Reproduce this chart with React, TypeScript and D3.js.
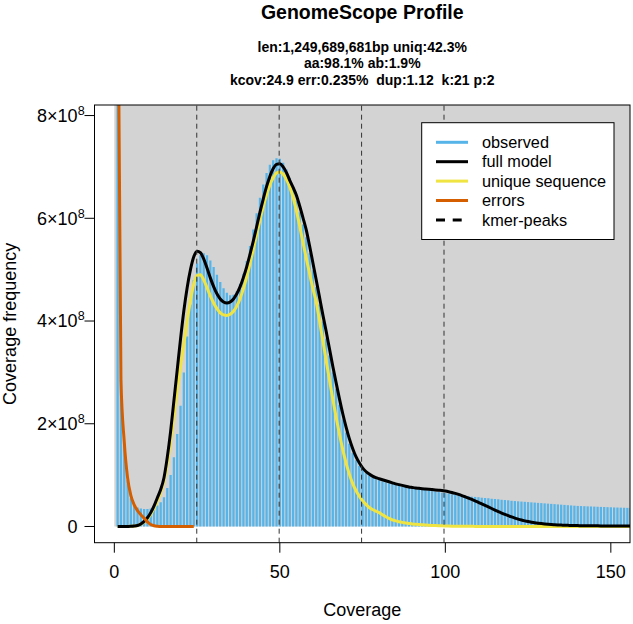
import React from 'react';
import * as d3 from 'd3';

// ---- data (values in millions of k-mers), coverage = index + 1 ----
const observedM = [
  3000, 285, 160, 90, 55, 42, 37, 35, 34, 34,
  35, 37, 41, 47, 57, 75, 100, 135, 180, 235,
  300, 370, 432, 480, 512, 528, 532, 528, 518, 505,
  490, 476, 464, 455, 450, 451, 458, 472, 492, 517,
  546, 578, 610, 640, 666, 688, 704, 713, 717, 716,
  708, 695, 678, 657, 634, 612, 588, 563, 532, 499,
  466, 432, 399, 366, 333, 300, 268, 237, 208, 183,
  161, 143, 129, 118, 110, 104, 99, 96, 93, 90,
  88, 86, 84, 83, 81, 80, 78, 77, 76, 75,
  74, 73, 72, 71, 70, 69, 68, 67, 66, 65,
  64, 63, 62, 61, 60, 59.5, 59, 58, 57.5, 57,
  56, 55.5, 55, 54, 53.5, 53, 52, 51.5, 51, 50,
  49.5, 49, 48.5, 48, 47.5, 47, 46.5, 46, 45.5, 45,
  44.5, 44, 43.5, 43, 42.5, 42, 41.5, 41, 40.5, 40,
  39.8, 39.5, 39.2, 39, 38.7, 38.4, 38.1, 37.9, 37.6, 37.4,
  37.1, 36.9, 36.7, 36.5, 36.3, 36.1, 35.9,
];

const fullModelM = [
  0, 0, 0, 0.1, 0.3, 0.8, 2, 5, 10, 17,
  27, 40, 56, 72, 95, 135, 185, 245, 305, 365,
  420, 465, 500, 525, 536, 533, 521, 503, 484, 467,
  453, 443, 437, 435, 437, 443, 453, 467, 485, 506,
  530, 556, 584, 612, 638, 662, 682, 697, 705, 706,
  700, 689, 674, 660, 645, 624, 601, 577, 546, 513,
  480, 446, 412, 380, 346, 312, 280, 249, 220, 194,
  171, 152, 136, 124, 114, 107, 102, 98, 95, 93,
  91, 89, 87, 85, 83, 81.5, 80, 78.5, 77, 76,
  75, 74.3, 73.6, 73, 72.4, 71.8, 71.2, 70.6, 70, 69,
  67.7, 66.2, 64.4, 62.4, 60.2, 57.8, 55.3, 52.6, 49.8, 47,
  44, 41, 38, 35, 32, 29, 26.2, 23.5, 21, 18.6,
  16.4, 14.4, 12.6, 11, 9.6, 8.4, 7.3, 6.4, 5.6, 4.9,
  4.3, 3.8, 3.4, 3.0, 2.7, 2.4, 2.2, 2.0, 1.8, 1.7,
  1.6, 1.5, 1.4, 1.3, 1.25, 1.2, 1.15, 1.1, 1.05, 1.0,
  1.0, 0.95, 0.9, 0.9, 0.85, 0.85, 0.8,
];

const uniqueSeqM = [
  0, 0, 0, 0.1, 0.3, 0.7, 1.8, 4.5, 9, 15,
  24, 36, 50, 66, 88, 122, 165, 215, 265, 312,
  355, 400, 440, 472, 489, 490, 480, 465, 449, 435,
  424, 416, 412, 411, 413, 419, 429, 444, 463, 486,
  512, 540, 569, 597, 623, 646, 665, 679, 688, 690,
  686, 676, 661, 641, 615, 585, 553, 522, 492, 463,
  437, 400, 362, 323, 285, 248, 213, 180, 150, 124,
  102, 84, 70, 59, 50, 43, 37, 33, 30, 27,
  23, 19, 16, 13, 11, 9.3, 8, 7, 6, 5,
  4.3, 3.7, 3.2, 2.7, 2.3, 2, 1.7, 1.4, 1.2, 1,
  0.85, 0.7, 0.6, 0.5, 0.42, 0.35, 0.3, 0.25, 0.2, 0.17,
  0.14, 0.12, 0.1, 0.08, 0.07, 0.06, 0.05, 0.04, 0.03, 0.02,
  0, 0, 0, 0, 0, 0, 0, 0, 0, 0,
  0, 0, 0, 0, 0, 0, 0, 0, 0, 0,
  0, 0, 0, 0, 0, 0, 0, 0, 0, 0,
  0, 0, 0, 0, 0, 0, 0,
];

const errorsM = [
  1150, 285, 165, 95, 60, 42, 31, 23, 16, 9,
  4, 1.5, 0.5, 0, 0, 0, 0, 0, 0, 0,
  0, 0, 0, 0,
];

const kmerPeaks = [24.9, 49.8, 74.7, 99.6];
const xTicks = [0, 50, 100, 150];
const yTicks = [0, 2e8, 4e8, 6e8, 8e8];
const yTickMantissa = ['0', '2', '4', '6', '8'];

const titleText = 'GenomeScope Profile';
const subtitleLines = [
  'len:1,249,689,681bp uniq:42.3%',
  'aa:98.1% ab:1.9%',
  'kcov:24.9 err:0.235%  dup:1.12  k:21 p:2',
];
const legendLabels = ['observed', 'full model', 'unique sequence', 'errors', 'kmer-peaks'];
const legendColors = ['#56B4E9', '#000000', '#F0E442', '#D55E00', '#000000'];

const FONT = '"Liberation Sans", Arial, Helvetica, sans-serif';

export default function App() {
  const W = 633;
  const H = 624;
  const box = { l: 94.5, r: 630, t: 105, b: 542.7 };
  const xlim = [0, 149.8];
  const ylim = [0, 789e6];
  const pad = 0.04;
  const xr = xlim[1] - xlim[0];
  const yr = ylim[1] - ylim[0];
  const x = d3.scaleLinear().domain([xlim[0] - pad * xr, xlim[1] + pad * xr]).range([box.l, box.r]);
  const y = d3.scaleLinear().domain([ylim[0] - pad * yr, ylim[1] + pad * yr]).range([box.b, box.t]);

  const toPts = (arr: number[]) => arr.map((v, i) => [i + 1, v * 1e6] as [number, number]);
  const line = d3
    .line<[number, number]>()
    .x((d) => x(d[0]))
    .y((d) => y(d[1]))
    .curve(d3.curveMonotoneX);

  const obs = toPts(observedM);
  const cx = (box.l + box.r) / 2;
  const cy = (box.t + box.b) / 2;

  const leg = { l: 421.7, t: 122.7, r: 614, b: 239.5 };
  const legY0 = 142.3;
  const legDy = 19.4;

  return (
    <svg
      width={W}
      height={H}
      style={{ position: 'fixed', left: 0, top: 0, background: '#fff' }}
      fontFamily={FONT}
    >
      <defs>
        <clipPath id="plotclip">
          <rect x={box.l} y={box.t} width={box.r - box.l} height={box.b - box.t} />
        </clipPath>
      </defs>
      <rect x={0} y={0} width={W} height={H} fill="#fff" />

      <g clipPath="url(#plotclip)">
        <rect x={x(0)} y={box.t - 10} width={box.r - x(0) + 10} height={y(0) - box.t + 10} fill="#D3D3D3" />
        {obs.map((d, i) => (
          <line
            key={i}
            x1={x(d[0])}
            x2={x(d[0])}
            y1={y(0)}
            y2={y(d[1])}
            stroke="#56B4E9"
            strokeWidth={2.3}
          />
        ))}
        <path d={line(toPts(uniqueSeqM)) || ''} fill="none" stroke="#F0E442" strokeWidth={3} />
        <path d={line(toPts(fullModelM)) || ''} fill="none" stroke="#000" strokeWidth={3} />
        <path d={line(toPts(errorsM)) || ''} fill="none" stroke="#D55E00" strokeWidth={3} />
        {kmerPeaks.map((k, i) => (
          <line
            key={i}
            x1={x(k)}
            x2={x(k)}
            y1={box.b}
            y2={box.t}
            stroke="#333"
            strokeWidth={1}
            strokeDasharray="5,4"
          />
        ))}
      </g>

      {/* legend */}
      <rect x={leg.l} y={leg.t} width={leg.r - leg.l} height={leg.b - leg.t} fill="#fff" stroke="#000" strokeWidth={1} />
      {legendLabels.map((lab, i) => (
        <g key={lab}>
          <line
            x1={436}
            x2={468}
            y1={legY0 + i * legDy}
            y2={legY0 + i * legDy}
            stroke={legendColors[i]}
            strokeWidth={3}
            strokeDasharray={i === 4 ? '9,7.7' : undefined}
          />
          <text x={482} y={legY0 + i * legDy} dy="0.35em" fontSize={16.3} fill="#000">
            {lab}
          </text>
        </g>
      ))}

      {/* box */}
      <rect x={box.l} y={box.t} width={box.r - box.l} height={box.b - box.t} fill="none" stroke="#000" strokeWidth={1} />

      {/* x axis */}
      {xTicks.map((t) => (
        <g key={t}>
          <line x1={x(t)} x2={x(t)} y1={box.b} y2={box.b + 10} stroke="#000" />
          <text x={x(t)} y={577.5} textAnchor="middle" fontSize={18}>
            {t}
          </text>
        </g>
      ))}
      <text x={cx} y={616} textAnchor="middle" fontSize={18}>
        Coverage
      </text>

      {/* y axis */}
      {yTicks.map((t, i) => (
        <g key={t}>
          <line x1={box.l - 10} x2={box.l} y1={y(t)} y2={y(t)} stroke="#000" />
          {t === 0 ? (
            <text x={77.5} y={y(t)} dy="0.35em" textAnchor="end" fontSize={18}>
              0
            </text>
          ) : (
            <>
              <text x={77.5} y={y(t)} dy="0.35em" textAnchor="end" fontSize={18}>
                {yTickMantissa[i] + '×10'}
              </text>
              <text x={77.8} y={y(t) - 5} dy="0.35em" textAnchor="start" fontSize={12.5}>
                8
              </text>
            </>
          )}
        </g>
      ))}
      <text transform={`translate(16,${cy}) rotate(-90)`} textAnchor="middle" fontSize={18}>
        Coverage frequency
      </text>

      {/* titles */}
      <text x={cx} y={19} textAnchor="middle" fontSize={19.5} fontWeight="bold">
        {titleText}
      </text>
      {subtitleLines.map((s, i) => (
        <text
          key={i}
          x={cx}
          y={51.7 + i * 16.7}
          textAnchor="middle"
          fontSize={14}
          fontWeight="bold"
          style={{ whiteSpace: 'pre' }}
        >
          {s}
        </text>
      ))}
    </svg>
  );
}
